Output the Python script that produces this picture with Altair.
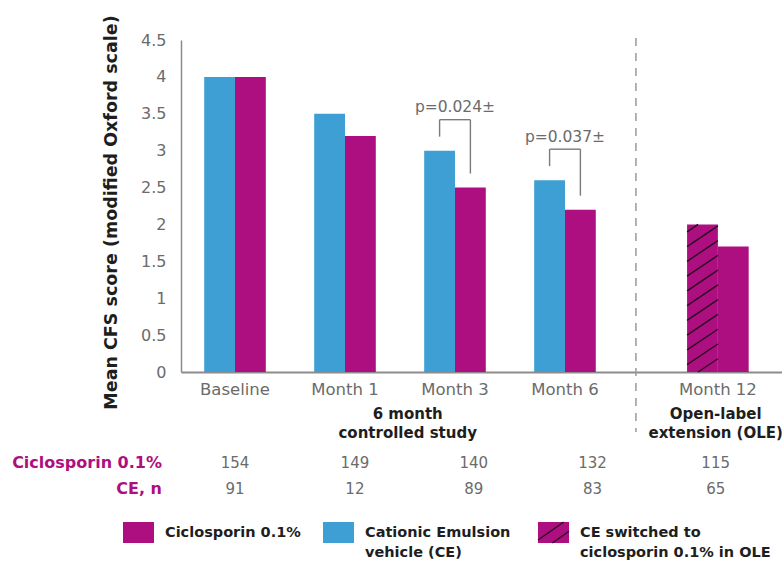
import altair as alt
import pandas as pd

# ---------------- data ----------------
timepoints = ["Baseline", "Month 1", "Month 3", "Month 6", "Month 12"]
ce_vehicle = [4.0, 3.5, 3.0, 2.6, None]          # Cationic Emulsion vehicle (CE)
ciclosporin = [4.0, 3.2, 2.5, 2.2, 1.7]           # Ciclosporin 0.1%
ce_switched = [None, None, None, None, 2.0]       # CE switched to ciclosporin 0.1% in OLE
n_ciclosporin = [154, 149, 140, 132, 115]
n_ce = [91, 12, 89, 83, 65]
p_timepoints = ["Month 3", "Month 6"]
p_labels = ["p=0.024±", "p=0.037±"]
phase_labels = ["6 month\ncontrolled study", "Open-label\nextension (OLE)"]
row_labels = ["Ciclosporin 0.1%", "CE, n"]
legend_labels = ["Ciclosporin 0.1%", "Cationic Emulsion\nvehicle (CE)",
                 "CE switched to\nciclosporin 0.1% in OLE"]

# ---------------- layout ----------------
slot = [0.0, 1.0, 2.0, 3.0, 4.39]        # centre of each visit group (x units)
count_cols = [0.0, 1.09, 2.17, 3.25, 4.37]
phase_cols = [1.57, 4.37]
ole_divider = 3.645
bar_w = 0.28
x_domain = [-0.491, 4.973]
W, H = 601, 332

BLUE = "#3D9FD4"
MAGENTA = "#AD0E80"
HATCH = "#2B0A22"
GRAY_TEXT = "#6B6B6B"
AXIS_GRAY = "#8C8C8C"
DARK = "#1E1E1E"
FONT = "DejaVu Sans"

x_scale = alt.Scale(domain=x_domain, nice=False, zero=False)
y_scale = alt.Scale(domain=[0, 4.5], nice=False)
x_axis = alt.Axis(labels=False, ticks=False, grid=False, title=None,
                  domainColor=AXIS_GRAY, domainWidth=2)
y_axis = alt.Axis(values=[0, 0.5, 1, 1.5, 2, 2.5, 3, 3.5, 4, 4.5],
                  labelExpr="'' + datum.value", ticks=False, tickSize=0, grid=False,
                  domainColor=AXIS_GRAY, domainWidth=1.5,
                  labelPadding=15, labelFontSize=16, labelColor=GRAY_TEXT,
                  labelFont=FONT,
                  title="Mean CFS score (modified Oxford scale)",
                  titleFont=FONT, titleFontSize=17.5, titleFontWeight="bold",
                  titleColor=DARK, titleX=-61, titleY=172)


def X(field):
    return alt.X(field, type="quantitative", scale=x_scale, axis=x_axis)


def Y(field):
    return alt.Y(field, type="quantitative", scale=y_scale, axis=y_axis)


# ---------------- bars ----------------
bar_rows = []
for i, t in enumerate(timepoints):
    c = slot[i]
    if ce_vehicle[i] is not None:
        bar_rows.append(dict(series="CE", x=c - bar_w, x2=c, v=ce_vehicle[i]))
    if ce_switched[i] is not None:
        bar_rows.append(dict(series="CE switched", x=c - bar_w, x2=c, v=ce_switched[i]))
    bar_rows.append(dict(series="Ciclosporin", x=c, x2=c + bar_w, v=ciclosporin[i]))
bars_df = pd.DataFrame(bar_rows)

bars = alt.Chart(bars_df).mark_rect().encode(
    x=X("x"), x2="x2", y=Y("v"), y2=alt.datum(0),
    color=alt.Color("series:N", legend=None,
                    scale=alt.Scale(domain=["CE", "CE switched", "Ciclosporin"],
                                    range=[BLUE, MAGENTA, MAGENTA])),
)

# diagonal hatching on the switched-arm bar, clipped to the bar outline
def hatch_segments(x_left, width, top, step, rise, phase):
    segs = []
    s = top - phase
    while s + rise > 0:
        t0 = max(0.0, (0.0 - s) / rise)
        t1 = min(1.0, (top - s) / rise)
        if t0 < t1:
            segs.append(dict(x=x_left + t0 * width, x2=x_left + t1 * width,
                             y=s + t0 * rise, y2=s + t1 * rise))
        s -= step
    return segs


hatch_rows = []
for i, v in enumerate(ce_switched):
    if v is not None:
        hatch_rows += hatch_segments(slot[i] - bar_w, bar_w, v, 0.2, 0.28, 0.1)
hatch_df = pd.DataFrame(hatch_rows)
hatch = alt.Chart(hatch_df).mark_rule(color=HATCH, strokeWidth=1.4).encode(
    x=X("x"), x2="x2", y=Y("y"), y2="y2"
)

# ---------------- significance brackets ----------------
br_rows, p_rows = [], []
for t, lab in zip(p_timepoints, p_labels):
    i = timepoints.index(t)
    c = slot[i]
    blue_v, mag_v = ce_vehicle[i], ciclosporin[i]
    xl, xr = c - bar_w / 2, c + bar_w / 2
    top = max(blue_v, mag_v) + 0.42
    br_rows += [dict(x=xl, x2=xl, y=blue_v + 0.19, y2=top),
                dict(x=xl, x2=xr, y=top, y2=top),
                dict(x=xr, x2=xr, y=mag_v + 0.19, y2=top)]
    p_rows.append(dict(x=c, y=top + 0.17, label=lab))
brackets = alt.Chart(pd.DataFrame(br_rows)).mark_rule(
    color="#7A7A7A", strokeWidth=1.4
).encode(x=X("x"), x2="x2", y=Y("y"), y2="y2")
p_text = alt.Chart(pd.DataFrame(p_rows)).mark_text(
    font=FONT, fontSize=15.5, color=GRAY_TEXT, baseline="middle"
).encode(x=X("x"), y=Y("y"), text="label:N")

# ---------------- x labels and phase captions ----------------
month_df = pd.DataFrame({"x": slot, "label": timepoints})
month_text = alt.Chart(month_df).mark_text(
    font=FONT, fontSize=16.5, color=GRAY_TEXT, baseline="middle"
).encode(x=X("x"), y=alt.value(350), text="label:N")

phase_df = pd.DataFrame({"x": phase_cols, "label": phase_labels})
phase_text = alt.Chart(phase_df).mark_text(
    font=FONT, fontSize=15, fontWeight="bold", color=DARK, baseline="top",
    lineBreak="\n", lineHeight=19
).encode(x=X("x"), y=alt.value(367), text="label:N")

divider = alt.Chart(pd.DataFrame({"x": [ole_divider]})).mark_rule(
    color="#9A9A9A", strokeWidth=1.5, strokeDash=[8, 7]
).encode(x=X("x"), y=alt.value(-2), y2=alt.value(392))

# ---------------- patient numbers ----------------
count_rows = []
for i in range(len(timepoints)):
    count_rows.append(dict(x=count_cols[i], row=0, n=str(n_ciclosporin[i])))
    count_rows.append(dict(x=count_cols[i], row=1, n=str(n_ce[i])))
count_df = pd.DataFrame(count_rows)
counts_top = alt.Chart(count_df[count_df.row == 0]).mark_text(
    font=FONT, fontSize=15, color=GRAY_TEXT, baseline="middle"
).encode(x=X("x"), y=alt.value(423), text="n:N")
counts_bot = alt.Chart(count_df[count_df.row == 1]).mark_text(
    font=FONT, fontSize=15, color=GRAY_TEXT, baseline="middle"
).encode(x=X("x"), y=alt.value(449), text="n:N")

row_df = pd.DataFrame({"label": row_labels, "py": [423, 449]})
row_text = alt.Chart(row_df).mark_text(
    font=FONT, fontSize=16, fontWeight="bold", color=MAGENTA, align="right",
    baseline="middle"
).encode(x=alt.value(-19), y=alt.Y("py:Q", scale=None), text="label:N")

# ---------------- legend ----------------
sw_x = [-58, 142, 357]
sw_colors = [MAGENTA, BLUE, MAGENTA]
legend_layers = []
for sx, col, lab in zip(sw_x, sw_colors, legend_labels):
    legend_layers.append(
        alt.Chart(pd.DataFrame({"k": [0]})).mark_rect(color=col).encode(
            x=alt.value(sx), x2=alt.value(sx + 31), y=alt.value(482), y2=alt.value(503)
        )
    )
    legend_layers.append(
        alt.Chart(pd.DataFrame({"label": [lab]})).mark_text(
            font=FONT, fontSize=14.5, fontWeight="bold", color=DARK, align="left",
            baseline="top", lineBreak="\n", lineHeight=20
        ).encode(x=alt.value(sx + 42), y=alt.value(486), text="label:N")
    )

# hatch lines inside the third swatch (pixel space)
hx0, hw, htop, hbot = 357, 31, 482, 503
for c0 in [500, 513, 526]:
    # line y = c0 - 0.7 * (x - hx0), clipped to the swatch box
    xa = hx0
    ya, yb = c0, c0 - 0.7 * hw
    t0 = max(0.0, (ya - hbot) / (ya - yb))
    t1 = min(1.0, (ya - htop) / (ya - yb))
    if t0 < t1:
        legend_layers.append(
            alt.Chart(pd.DataFrame({"k": [0]})).mark_rule(color=HATCH, strokeWidth=1.4).encode(
                x=alt.value(xa + t0 * hw), x2=alt.value(xa + t1 * hw),
                y=alt.value(ya - t0 * (ya - yb)), y2=alt.value(ya - t1 * (ya - yb))
            )
        )

chart = alt.layer(
    bars, hatch, brackets, p_text, month_text, phase_text, divider,
    counts_top, counts_bot, row_text, *legend_layers
).properties(
    width=W, height=H,
    autosize=alt.AutoSizeParams(type="none"),
    padding={"left": 181, "top": 40, "right": 0, "bottom": 191},
).configure(font=FONT).configure_view(stroke=None)

chart.save("out.html", embed_options={"renderer": "svg", "actions": False})
